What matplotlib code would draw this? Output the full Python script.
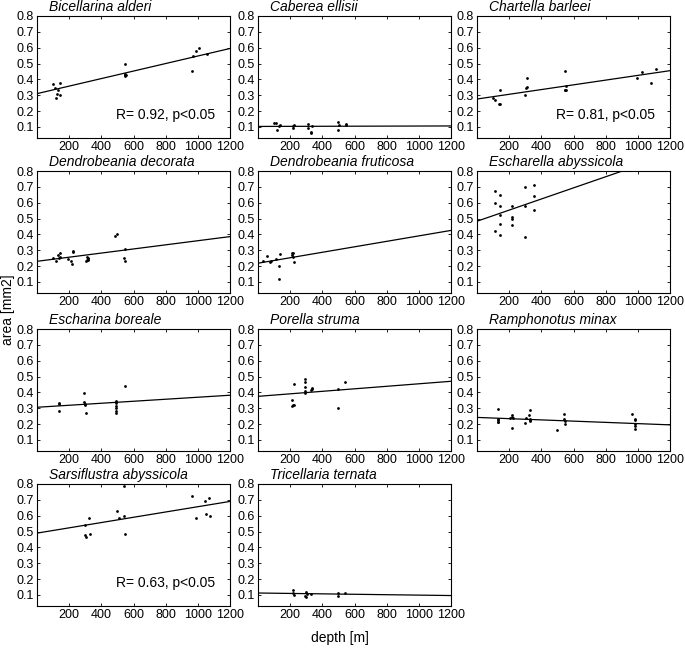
import numpy as np
import matplotlib
matplotlib.use("Agg")
import matplotlib.pyplot as plt

plt.rcParams['font.family'] = ['Liberation Sans', 'DejaVu Sans']

species = ["Bicellarina alderi", "Caberea ellisii", "Chartella barleei",
           "Dendrobeania decorata", "Dendrobeania fruticosa", "Escharella abyssicola",
           "Escharina boreale", "Porella struma", "Ramphonotus minax",
           "Sarsiflustra abyssicola", "Tricellaria ternata"]

bic_depth = [100, 115, 140, 125, 120, 140, 130, 550, 545, 550, 545, 555, 965, 970, 990, 1010, 1060]
bic_area = [0.37, 0.345, 0.38, 0.31, 0.28, 0.30, 0.33, 0.495, 0.435, 0.42, 0.425, 0.43, 0.455, 0.545, 0.58, 0.60, 0.56]

cab_depth = [100, 115, 135, 120, 130, 215, 220, 225, 310, 310, 335, 330, 330, 500, 505, 500, 545, 548]
cab_area = [0.125, 0.125, 0.115, 0.08, 0.105, 0.095, 0.105, 0.115, 0.12, 0.09, 0.105, 0.07, 0.06, 0.128, 0.115, 0.078, 0.12, 0.11]

cha_depth = [100, 115, 142, 135, 142, 298, 302, 310, 310, 548, 548, 552, 545, 555, 995, 1025, 1080, 1110]
cha_area = [0.285, 0.27, 0.33, 0.245, 0.245, 0.30, 0.345, 0.355, 0.41, 0.455, 0.335, 0.335, 0.33, 0.36, 0.41, 0.445, 0.38, 0.465]

dec_depth = [100, 120, 130, 140, 135, 145, 195, 210, 220, 222, 225, 305, 310, 315, 320, 318, 312, 485, 495, 545, 540, 550]
dec_area = [0.25, 0.23, 0.27, 0.28, 0.25, 0.26, 0.245, 0.23, 0.215, 0.29, 0.295, 0.235, 0.24, 0.245, 0.25, 0.24, 0.26, 0.39, 0.40, 0.31, 0.25, 0.235]

fru_depth = [30, 57, 72, 78, 112, 135, 130, 130, 210, 215, 212, 218, 222]
fru_area = [0.235, 0.265, 0.225, 0.23, 0.245, 0.275, 0.2, 0.12, 0.28, 0.28, 0.27, 0.255, 0.225]

esc_depth = [110, 110, 110, 140, 140, 140, 140, 140, 215, 215, 215, 215, 298, 300, 298, 352, 354, 354]
esc_area = [0.675, 0.60, 0.42, 0.65, 0.58, 0.525, 0.465, 0.395, 0.58, 0.51, 0.50, 0.46, 0.70, 0.58, 0.385, 0.71, 0.645, 0.555]

ebo_depth = [135, 135, 135, 295, 295, 300, 305, 300, 490, 490, 490, 490, 490, 490, 550]
ebo_area = [0.335, 0.325, 0.285, 0.395, 0.34, 0.325, 0.27, 0.32, 0.345, 0.33, 0.315, 0.30, 0.285, 0.27, 0.44]

por_depth = [210, 214, 220, 225, 222, 292, 292, 292, 292, 292, 327, 333, 338, 496, 496, 541]
por_area = [0.355, 0.315, 0.32, 0.32, 0.455, 0.485, 0.465, 0.435, 0.41, 0.395, 0.415, 0.42, 0.425, 0.42, 0.30, 0.465]

ram_depth = [130, 130, 130, 130, 130, 205, 218, 222, 220, 220, 297, 303, 322, 328, 328, 332, 330,
             500, 540, 542, 546, 550, 965, 985, 985, 985, 985, 985]
ram_area = [0.295, 0.235, 0.225, 0.215, 0.21, 0.24, 0.245, 0.24, 0.255, 0.175, 0.205, 0.24, 0.26, 0.29, 0.22, 0.225, 0.235,
            0.16, 0.265, 0.23, 0.22, 0.20, 0.265, 0.225, 0.20, 0.185, 0.17, 0.235]

sar_depth = [297, 297, 303, 324, 332, 499, 507, 540, 544, 548, 963, 988, 1045, 1070, 1053, 1074]
sar_area = [0.54, 0.48, 0.465, 0.585, 0.485, 0.63, 0.585, 0.79, 0.595, 0.485, 0.725, 0.585, 0.695, 0.71, 0.61, 0.595]

tri_depth = [220, 220, 222, 298, 302, 292, 300, 327, 496, 500, 543]
tri_area = [0.128, 0.112, 0.098, 0.12, 0.107, 0.09, 0.088, 0.103, 0.096, 0.11, 0.11]

# regression line values at depth 0 and 1200
fit_depth = [0, 1200]
fit_at_0 = [0.31, 0.103, 0.276, 0.23, 0.218, 0.483, 0.306, 0.375, 0.242, 0.49, 0.112]
fit_at_1200 = [0.595, 0.106, 0.455, 0.386, 0.425, 0.904, 0.382, 0.47, 0.195, 0.69, 0.096]

stats = {0: "R= 0.92, p<0.05", 2: "R= 0.81, p<0.05", 9: "R= 0.63, p<0.05"}

depths = [bic_depth, cab_depth, cha_depth, dec_depth, fru_depth, esc_depth,
          ebo_depth, por_depth, ram_depth, sar_depth, tri_depth]
areas = [bic_area, cab_area, cha_area, dec_area, fru_area, esc_area,
         ebo_area, por_area, ram_area, sar_area, tri_area]

xticks = [200, 400, 600, 800, 1000, 1200]
yticks = [0.1, 0.2, 0.3, 0.4, 0.5, 0.6, 0.7, 0.8]

W, H = 685, 649
fig = plt.figure(figsize=(W / 100, H / 100), dpi=100)

col_left = [37, 258, 477]
row_top = [16, 171, 329, 484]
aw, ah = 193, 122

for i, name in enumerate(species):
    r, c = divmod(i, 3)
    ax = fig.add_axes([col_left[c] / W, 1 - (row_top[r] + ah) / H, aw / W, ah / H])
    ax.plot(depths[i], areas[i], 'o', color='black', ms=2.0, mew=0)
    ax.plot(fit_depth, [fit_at_0[i], fit_at_1200[i]], color='black', lw=0.9)
    ax.set_xlim(0, 1200)
    ax.set_ylim(0.03, 0.8)
    ax.set_xticks(xticks)
    ax.set_yticks(yticks)
    ax.set_yticklabels([f"{v:.1f}" for v in yticks])
    ax.tick_params(direction='in', length=2.5, width=0.6, labelsize=9,
                   top=True, right=True, pad=2)
    for s in ax.spines.values():
        s.set_linewidth(0.8)
    ax.text(0.06, 1.02, name, transform=ax.transAxes, fontsize=10,
            style='italic', ha='left', va='bottom')
    if i in stats:
        ax.text(0.41, 0.19, stats[i], transform=ax.transAxes, fontsize=10,
                ha='left', va='center')

fig.text(8 / W, 1 - 310 / H, "area [mm2]", rotation=90, fontsize=10,
         ha='center', va='center')
fig.text(340 / W, 1 - 638 / H, "depth [m]", fontsize=10, ha='center', va='center')

fig.savefig("out.png", dpi=100)
